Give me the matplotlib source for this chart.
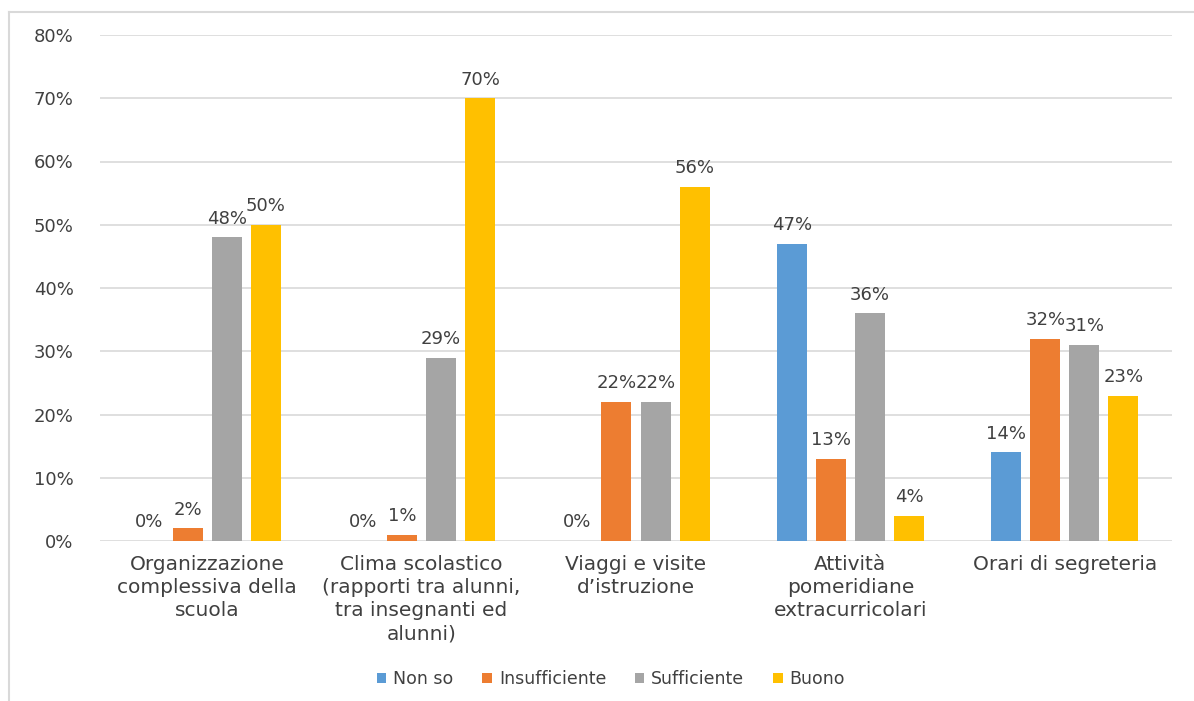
import matplotlib
matplotlib.use("Agg")
import matplotlib.pyplot as plt
from matplotlib.lines import Line2D
import numpy as np

categories = [
    "Organizzazione\ncomplessiva della\nscuola",
    "Clima scolastico\n(rapporti tra alunni,\ntra insegnanti ed\nalunni)",
    "Viaggi e visite\nd\u2019istruzione",
    "Attivit\u00e0\npomeridiane\nextracurricolari",
    "Orari di segreteria",
]
series_names = ["Non so", "Insufficiente", "Sufficiente", "Buono"]
non_so = [0, 0, 0, 47, 14]
insufficiente = [2, 1, 22, 13, 32]
sufficiente = [48, 29, 22, 36, 31]
buono = [50, 70, 56, 4, 23]
yticks = [0, 10, 20, 30, 40, 50, 60, 70, 80]

colors = ["#5B9BD5", "#ED7D31", "#A5A5A5", "#FFC000"]
series = [non_so, insufficiente, sufficiente, buono]

plt.rcParams['font.family'] = ['DejaVu Sans']
text_color = "#404040"

fig = plt.figure(figsize=(11.94, 7.01), dpi=100)
ax = fig.add_axes([100/1194, 1-541/701, 1072/1194, (541-35)/701])

x = np.arange(len(categories))
width = 0.14
step = 0.182
for i, (name, vals, c) in enumerate(zip(series_names, series, colors)):
    pos = x + (i - 1.5) * step
    ax.bar(pos, vals, width=width, color=c, label=name, zorder=3)
    for p, v in zip(pos, vals):
        ax.annotate(f"{v}%", xy=(p, v), xytext=(0, 7), textcoords="offset points",
                    ha="center", va="bottom", fontsize=13, color=text_color, zorder=4)

ax.set_xlim(-0.5, len(categories) - 0.5)
ax.set_ylim(0, 80)
ax.set_yticks(yticks)
ax.set_yticklabels([f"{t}%" for t in yticks], fontsize=13, color=text_color)
ax.set_xticks(x)
ax.set_xticklabels(categories, fontsize=14.5, color=text_color, linespacing=1.28)
ax.tick_params(axis="both", length=0)
ax.tick_params(axis="y", pad=19)
ax.tick_params(axis="x", pad=10)
ax.yaxis.grid(True, color="#D9D9D9", linewidth=1.2, zorder=0)
for s in ax.spines.values():
    s.set_visible(False)

leg = fig.legend(loc="center", bbox_to_anchor=(611/1194, 1-679/701), ncol=4,
                 frameon=False, fontsize=12.5, handlelength=0.55, handleheight=0.55,
                 handletextpad=0.4, columnspacing=1.65)
for t in leg.get_texts():
    t.set_color(text_color)

# outer frame (top and left only)
fig.add_artist(Line2D([9/1194, 1], [1-12/701, 1-12/701], color="#D9D9D9",
                      linewidth=1.5, transform=fig.transFigure))
fig.add_artist(Line2D([9/1194, 9/1194], [0, 1-12/701], color="#D9D9D9",
                      linewidth=1.5, transform=fig.transFigure))

fig.savefig("out.png", dpi=100)
